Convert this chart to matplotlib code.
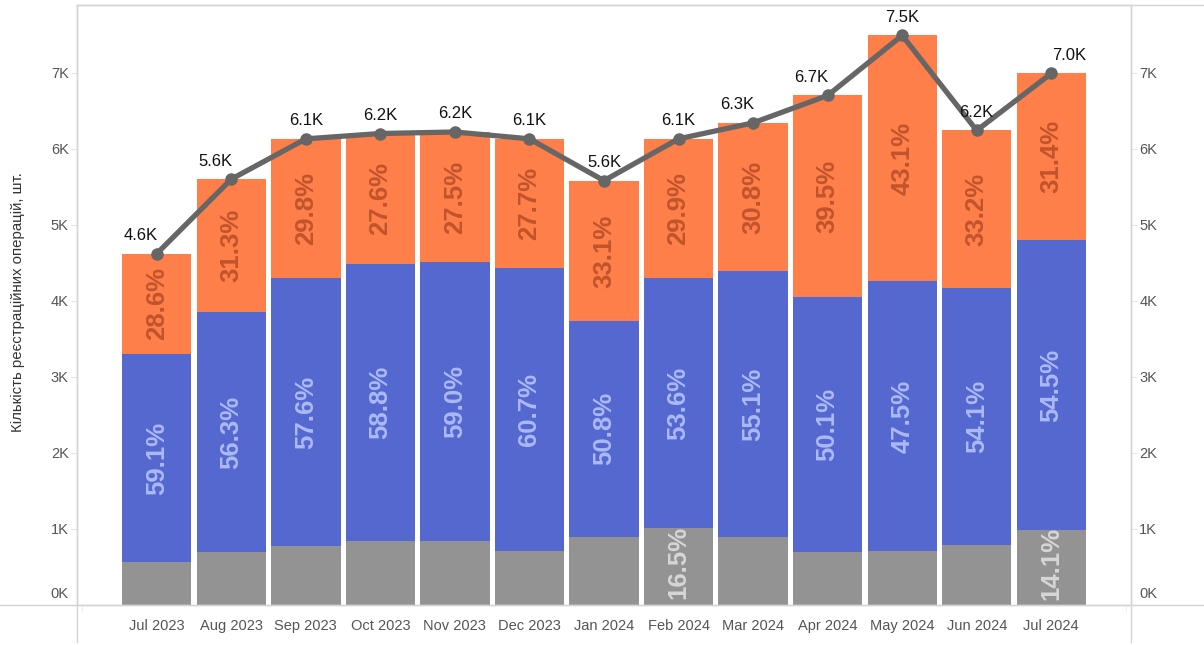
import matplotlib.pyplot as plt
import matplotlib.lines as mlines
import matplotlib.transforms as mtrans
import numpy as np

plt.rcParams['font.family'] = ['Liberation Sans', 'DejaVu Sans']

# Monthly totals and segment shares (%)
months = ['Jul 2023', 'Aug 2023', 'Sep 2023', 'Oct 2023', 'Nov 2023', 'Dec 2023',
          'Jan 2024', 'Feb 2024', 'Mar 2024', 'Apr 2024', 'May 2024', 'Jun 2024', 'Jul 2024']
totals = [4620, 5600, 6130, 6200, 6220, 6130, 5580, 6130, 6340, 6700, 7490, 6240, 6990]
orange_pct = [28.6, 31.3, 29.8, 27.6, 27.5, 27.7, 33.1, 29.9, 30.8, 39.5, 43.1, 33.2, 31.4]
blue_pct = [59.1, 56.3, 57.6, 58.8, 59.0, 60.7, 50.8, 53.6, 55.1, 50.1, 47.5, 54.1, 54.5]
gray_pct = [12.3, 12.4, 12.6, 13.6, 13.5, 11.6, 16.1, 16.5, 14.1, 10.4, 9.4, 12.7, 14.1]

# horizontal nudges for the total labels (pixels), mimics Tableau placement
label_dx = [-16, -16, 0, 0, 0, 0, 0, 0, -16, -16, 0, 0, 18]

c_gray, c_blue, c_orange = '#939393', '#5468d0', '#fe7f4a'
t_gray, t_blue, t_orange = '#d6d6d6', '#abb9f5', '#c2542b'
axis_col = '#d4d4d4'

totals = np.array(totals, dtype=float)
gray = totals * np.array(gray_pct) / 100
blue = totals * np.array(blue_pct) / 100
orange = totals * np.array(orange_pct) / 100
x = np.arange(len(months))

fig = plt.figure(figsize=(12.04, 6.45), dpi=100)
ax = fig.add_axes([77 / 1204, 1 - 605 / 645, (1131 - 77) / 1204, 600 / 645])

w = 0.93
ax.bar(x, gray, width=w, color=c_gray, zorder=2)
ax.bar(x, blue, width=w, bottom=gray, color=c_blue, zorder=2)
ax.bar(x, orange, width=w, bottom=gray + blue, color=c_orange, zorder=2)

fs_pct = 18.5
for i in range(len(x)):
    ax.text(x[i], gray[i] + blue[i] + orange[i] / 2, f'{orange_pct[i]:.1f}%', rotation=90,
            ha='center', va='center', color=t_orange, fontsize=fs_pct,
            fontweight='bold', zorder=3)
    ax.text(x[i], gray[i] + blue[i] / 2, f'{blue_pct[i]:.1f}%', rotation=90,
            ha='center', va='center', color=t_blue, fontsize=fs_pct,
            fontweight='bold', zorder=3)
    if gray[i] > 950:
        ax.text(x[i], gray[i] / 2 + 60, f'{gray_pct[i]:.1f}%', rotation=90,
                ha='center', va='center', color=t_gray, fontsize=fs_pct,
                fontweight='bold', zorder=3, clip_on=True)

# total line
ax.plot(x, totals, color='#666666', linewidth=3.8, marker='o', markersize=8,
        solid_capstyle='round', zorder=4)
for i in range(len(x)):
    ax.annotate(f'{totals[i] / 1000:.1f}K', xy=(x[i], totals[i]),
                xytext=(label_dx[i], 18), textcoords='offset pixels',
                ha='center', va='center', fontsize=12, color='#111111', zorder=5)

ax.set_xlim(-1.07, 13.07)
ax.set_ylim(0, 7890)
ax.set_xticks(x)
ax.set_xticklabels(months)
ax.set_xticks(np.arange(-1, 14), minor=True)
ax.set_yticks(np.arange(0, 8000, 1000))
ax.set_yticklabels([f'{v}K' for v in range(8)])
ax.tick_params(axis='x', which='major', length=0, pad=10, labelsize=10.5, labelcolor='#555555')
ax.tick_params(axis='x', which='minor', length=5, color='#ececec', direction='out')
ax.tick_params(axis='y', left=True, right=True, labelleft=True, labelright=True,
               length=4, color='#e6e6e6', labelsize=10.5, labelcolor='#555555', pad=2)

# Tableau keeps the 0K label inside the pane
shift_up = mtrans.ScaledTranslation(0, 9 / 72, fig.dpi_scale_trans)
for tk in ax.yaxis.get_major_ticks()[:1]:
    tk.label1.set_transform(tk.label1.get_transform() + shift_up)
    tk.label2.set_transform(tk.label2.get_transform() + shift_up)

for s in ['left', 'right', 'top', 'bottom']:
    ax.spines[s].set_color(axis_col)
    ax.spines[s].set_linewidth(1)

ax.set_ylabel('Кількість реєстраційних операцій, шт.', fontsize=10.8, color='#333333')
ax.yaxis.set_label_coords(-0.049, 0.505)

# frame lines that run past the plot area
fig.add_artist(mlines.Line2D([0, 1], [1 - 605 / 645] * 2, color=axis_col, lw=1))
fig.add_artist(mlines.Line2D([77 / 1204, 1], [1 - 5 / 645] * 2, color=axis_col, lw=1))
fig.add_artist(mlines.Line2D([77 / 1204] * 2, [1 - 642 / 645, 1 - 5 / 645], color=axis_col, lw=1))
fig.add_artist(mlines.Line2D([1131 / 1204] * 2, [1 - 642 / 645, 1 - 5 / 645], color=axis_col, lw=1))

fig.savefig('out.png', dpi=100)
